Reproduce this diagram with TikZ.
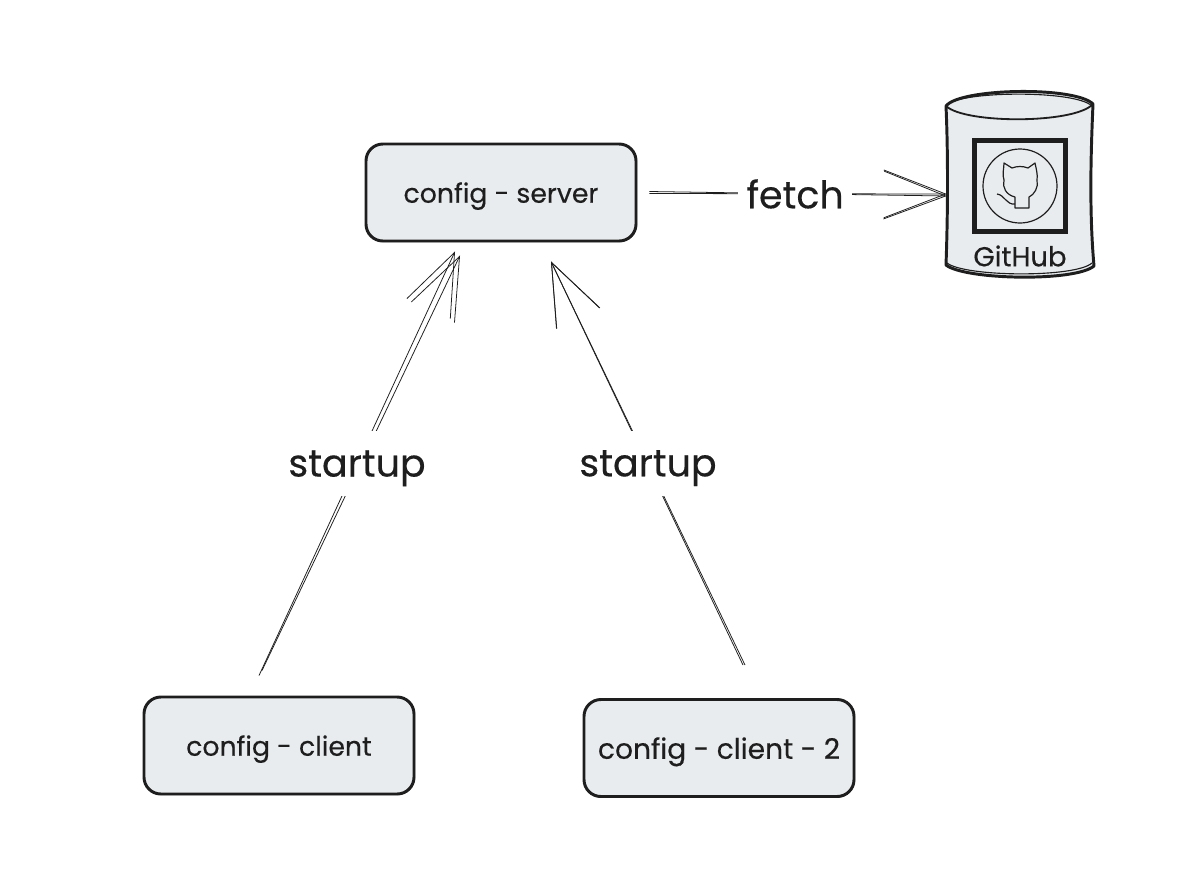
\documentclass[tikz,border=0pt]{standalone}
\usepackage{fontspec}
\setmainfont{Poppins}[FakeBold=0.35]
\usetikzlibrary{arrows.meta}
\definecolor{ink}{HTML}{1E1E1E}
\definecolor{boxfill}{HTML}{E9ECEF}
\tikzset{
  boxnode/.style={draw=ink,fill=boxfill,line width=2.1pt,rounded corners=12pt,minimum width=270*0.025cm,minimum height=97*0.025cm,inner sep=0pt,text depth=0pt,font=\fontsize{19}{22}\selectfont,text=ink},
  boxline/.style={draw=ink,line width=0.8pt,rounded corners=12pt},
  wire/.style={draw=ink,line width=0.55pt,-{Straight Barb[length=44pt,width=34pt,line width=0.55pt]}},
  wirelabel/.style={fill=white,inner sep=0pt,minimum height=65*0.025cm,text depth=0pt,font=\fontsize{27}{32}\selectfont,text=ink},
  logoline/.style={draw=ink,line width=0.85pt,line join=round},
}
\begin{document}
\begin{tikzpicture}[x=0.025cm,y=-0.025cm]
\useasboundingbox (0,0) rectangle (1204,870);
% boxes
\node[boxnode] (server) at (501,192.5) {config - server};
\node[boxnode] (client) at (279,745.5) {config - client};
\node[boxnode,font=\fontsize{20}{22}\selectfont] (clienttwo) at (719,748) {config - client - 2};
\draw[boxline] ([shift={(1.5,-1)}]server.south west) rectangle ([shift={(-1,1.5)}]server.north east);
\draw[boxline] ([shift={(1.5,-1)}]client.south west) rectangle ([shift={(-1,1.5)}]client.north east);
\draw[boxline] ([shift={(1.5,-1)}]clienttwo.south west) rectangle ([shift={(-1,1.5)}]clienttwo.north east);
% repo
\node[minimum width=148*0.025cm,minimum height=180*0.025cm,inner sep=0pt] (github) at (1020,183) {};
\draw[ink,fill=boxfill,line width=2.1pt,line join=round] (946,106) .. controls (960,88) and (1075,86) .. (1093,104) .. controls (1091,150) and (1089,210) .. (1094,266) .. controls (1075,282) and (965,280) .. (946,265) .. controls (948,210) and (948,150) .. (946,106) -- cycle;
\draw[ink,line width=1.3pt] (946,106) .. controls (965,124) and (1075,124) .. (1093,104);
\draw[ink,line width=0.8pt] (948,104) .. controls (965,91) and (1075,90) .. (1092,106);
\draw[ink,line width=0.8pt] (1092,263) .. controls (1075,278) and (965,277) .. (947,263);
\node[draw=ink,line width=3pt,minimum size=91*0.025cm,inner sep=0pt] (logobox) at (1020,186) {};
\node[logoline,circle,minimum size=74*0.025cm,inner sep=0pt] (logo) at (1020,186) {};
\draw[logoline] (1015,208) -- (1015,197) .. controls (1006,195) and (1002,187) .. (1004,180) .. controls (1002,175) and (1004,168) .. (1004,163) -- (1012,168) .. controls (1017,166) and (1023,166) .. (1028,168) -- (1035,163) .. controls (1036,168) and (1038,175) .. (1037,180) .. controls (1039,187) and (1034,195) .. (1029,197) -- (1029,208) -- cycle;
\draw[logoline] (1015,204) .. controls (1006,205) and (1005,195) .. (997,194);
\node[font=\fontsize{19.5}{22}\selectfont,text=ink] (githublabel) at (1020,256) {GitHub};
% connectors
\draw[wire] ([shift={(-17,-25)}]client.north) -- ([shift={(-41,13)}]server.south);
\draw[wire] ([shift={(-20,-20)}]client.north) -- node[wirelabel] (startupa) {startup} ([shift={(-46,9)}]server.south);
\draw[wire] ([shift={(24,-33)}]clienttwo.north) -- ([shift={(50,19)}]server.south);
\draw[wire] ([shift={(26,-33)}]clienttwo.north) -- node[wirelabel] (startupb) {startup} ([shift={(50,19)}]server.south);
\draw[wire] ([shift={(12,-1)}]server.east) -- ([shift={(1,13)}]github.west);
\draw[wire] ([shift={(12,1)}]server.east) -- node[wirelabel,pos=0.49,minimum width=114*0.025cm] (fetch) {fetch} ([shift={(1,11)}]github.west);
\end{tikzpicture}
\end{document}
